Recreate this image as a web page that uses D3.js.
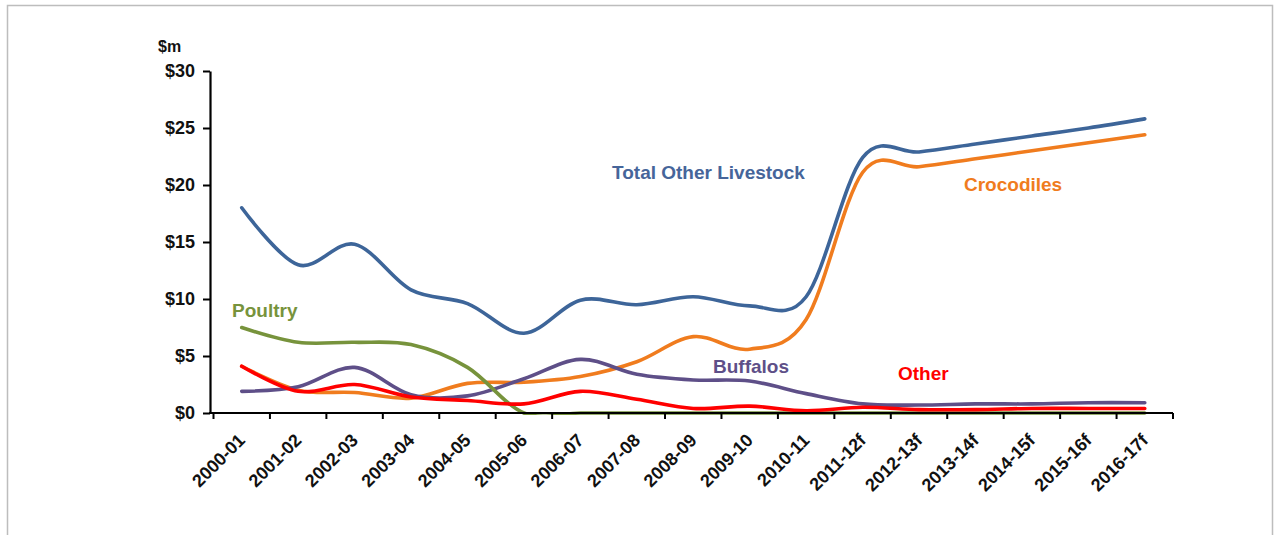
<!DOCTYPE html>
<html>
<head>
<meta charset="utf-8">
<script src="https://cdn.jsdelivr.net/npm/d3@7"></script>
<style>
  body { margin: 0; background: #fff; }
  svg { display: block; font-family: Arial, "Liberation Sans", sans-serif; }
</style>
</head>
<body>
<svg id="chart" width="1276" height="535"></svg>
<script>
// Data ($m)
var categories = ["2000-01", "2001-02", "2002-03", "2003-04", "2004-05", "2005-06",
    "2006-07", "2007-08", "2008-09", "2009-10", "2010-11", "2011-12f", "2012-13f",
    "2013-14f", "2014-15f", "2015-16f", "2016-17f"];

var totalOther = [18.0, 13.0, 14.8, 10.8, 9.6, 7.0, 9.9, 9.5, 10.2, 9.4, 10.2, 22.4, 22.9, 23.6, 24.3, 25.0, 25.8];
var crocodiles = [4.1, 2.0, 1.8, 1.3, 2.6, 2.7, 3.2, 4.5, 6.7, 5.6, 8.2, 21.1, 21.6, 22.3, 23.0, 23.7, 24.4];
var buffalos = [1.9, 2.3, 4.0, 1.6, 1.5, 3.0, 4.7, 3.4, 2.9, 2.8, 1.7, 0.8, 0.7, 0.8, 0.8, 0.9, 0.9];
var poultry = [7.5, 6.2, 6.2, 6.0, 4.0, 0, 0, 0, 0, 0, 0, 0, 0, 0, 0, 0, 0];
var other = [4.1, 1.9, 2.5, 1.4, 1.1, 0.8, 1.9, 1.2, 0.4, 0.6, 0.2, 0.5, 0.3, 0.3, 0.4, 0.4, 0.4];

var yTicks = [0, 5, 10, 15, 20, 25, 30];

var series = [
    { name: "Total Other Livestock", values: totalOther, color: "#3d6599", label: [612, 172] },
    { name: "Crocodiles", values: crocodiles, color: "#f07c1e", label: [964, 184] },
    { name: "Buffalos", values: buffalos, color: "#5e4f88", label: [713, 366] },
    { name: "Poultry", values: poultry, color: "#77933c", label: [232, 310] },
    { name: "Other", values: other, color: "#ff0000", label: [898, 373] }
];

var svg = d3.select("#chart");

// light frame round the chart
svg.append("path")
    .attr("d", "M7.5,540 V5.5 H1272.5 V540")
    .attr("fill", "none")
    .attr("stroke", "#bdbdbd")
    .attr("stroke-width", 1.5);

var x = d3.scaleBand()
    .domain(categories)
    .range([213.5, 1173])
    .paddingInner(0)
    .paddingOuter(0);

var y = d3.scaleLinear()
    .domain([0, 30])
    .range([413, 71]);

var cx = (d) => x(d) + x.bandwidth() / 2;

svg.append("clipPath").attr("id", "plot-clip")
    .append("rect")
    .attr("x", 211).attr("y", 60)
    .attr("width", 970).attr("height", 355);

var line = d3.line()
    .x((d, i) => cx(categories[i]))
    .y((d) => y(d))
    .curve(d3.curveCardinal.tension(0));

var lines = svg.append("g").attr("clip-path", "url(#plot-clip)");
series.forEach((s) => {
    lines.append("path")
        .datum(s.values)
        .attr("fill", "none")
        .attr("stroke", s.color)
        .attr("stroke-width", 3.6)
        .attr("stroke-linejoin", "round")
        .attr("stroke-linecap", "round")
        .attr("d", line);
});

// Y axis
var yAxis = svg.append("g")
    .attr("transform", "translate(210,0)")
    .call(d3.axisLeft(y).tickValues(yTicks).tickSize(7).tickSizeOuter(0)
        .tickFormat((d) => "$" + d));
yAxis.select(".domain").attr("stroke", "#000").attr("stroke-width", 2.2);
yAxis.selectAll(".tick line").attr("stroke", "#000").attr("stroke-width", 2);
yAxis.selectAll(".tick text")
    .attr("x", -15)
    .attr("fill", "#111")
    .style("font-size", "18px")
    .style("font-weight", "bold");

svg.append("text")
    .attr("x", 158).attr("y", 52)
    .attr("fill", "#111")
    .style("font-size", "16px")
    .style("font-weight", "bold")
    .text("$m");

// X axis
var xAxis = svg.append("g")
    .attr("transform", "translate(0,413)");
xAxis.append("line")
    .attr("x1", 209).attr("x2", 1173)
    .attr("stroke", "#000").attr("stroke-width", 2.2);
var edges = categories.map((c) => x(c)).concat([x.range()[1]]);
xAxis.selectAll("line.tick")
    .data(edges)
    .enter()
    .append("line")
    .attr("class", "tick")
    .attr("x1", (d) => d).attr("x2", (d) => d)
    .attr("y1", 0).attr("y2", 6)
    .attr("stroke", "#000").attr("stroke-width", 2);
xAxis.selectAll("text.cat")
    .data(categories)
    .enter()
    .append("text")
    .attr("class", "cat")
    .attr("transform", (d) => "translate(" + cx(d) + ",24) rotate(-45)")
    .attr("text-anchor", "end")
    .attr("dy", "0.35em")
    .attr("fill", "#111")
    .style("font-size", "18px")
    .style("font-weight", "bold")
    .text((d) => d);

// series labels
svg.selectAll("text.series-label")
    .data(series)
    .enter()
    .append("text")
    .attr("class", "series-label")
    .attr("x", (d) => d.label[0])
    .attr("y", (d) => d.label[1])
    .attr("dy", "0.35em")
    .attr("fill", (d) => d.name == "Total Other Livestock" ? "#46659a" : d.color)
    .style("font-size", "19px")
    .style("font-weight", "bold")
    .text((d) => d.name);
</script>
</body>
</html>
